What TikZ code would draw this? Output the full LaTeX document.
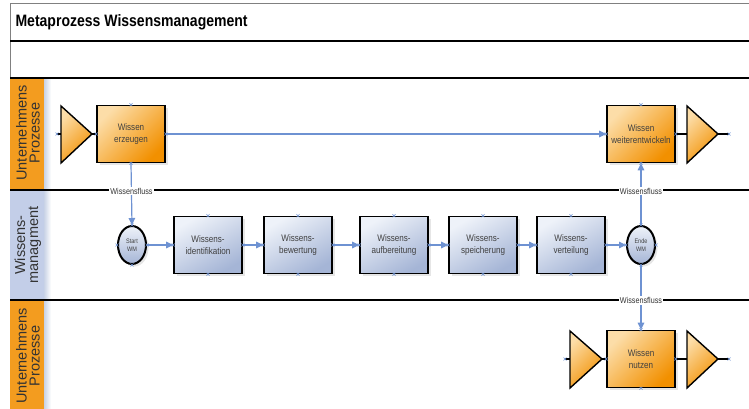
\documentclass[tikz,border=0pt]{standalone}
\usepackage{fontspec}
\setmainfont{Liberation Sans}
\newfontfamily\narrowsf[FakeStretch=0.85]{Liberation Sans}
\usetikzlibrary{arrows.meta,shapes.geometric,shadows}

\definecolor{wmOrangeL}{HTML}{FCDDA8}
\definecolor{wmOrangeD}{HTML}{F29000}
\definecolor{wmOrangeH}{HTML}{F39C1F}
\definecolor{wmBlueL}{HTML}{EEF2F9}
\definecolor{wmBlueD}{HTML}{A5B5D6}
\definecolor{wmBlueH}{HTML}{C3CEE8}
\definecolor{wmFlow}{HTML}{6E92D2}

\tikzset{
  wmshadow/.style={drop shadow={opacity=0.2,shadow xshift=2.5pt,shadow yshift=-2.5pt}},
  probox/.style={rectangle,draw=black,line width=1.6pt,minimum width=68pt,minimum height=57pt,
    top color=wmOrangeL,bottom color=wmOrangeD,shading angle=45,align=center,
    font=\narrowsf\fontsize{9.5}{11.5}\selectfont,text=black!75,wmshadow},
  wmbox/.style={probox,top color=wmBlueL,bottom color=wmBlueD,shading angle=30},
  evt/.style={ellipse,draw=black,line width=2pt,minimum width=28pt,minimum height=38pt,inner sep=0pt,
    top color=wmBlueL,bottom color=wmBlueD,align=center,font=\narrowsf\fontsize{6.5}{8}\selectfont,
    text=black!75,wmshadow},
  tri/.style={draw=black,line width=1.4pt,top color=wmOrangeL,bottom color=wmOrangeD,shading angle=45},
  wmflow/.style={draw=wmFlow,line width=1.2pt,-{Triangle[length=7pt,width=6.5pt]}},
  stub/.style={draw=black,line width=1.6pt},
  flowlbl/.style={fill=white,inner sep=1pt,font=\narrowsf\fontsize{8.5}{9}\selectfont,text=black!80},
  lanehd/.style={rotate=90,align=center,font=\fontsize{14.5}{13}\selectfont,text=black!80},
  lane/.style={draw=black,line width=2pt},
  cpmark/.style={draw=wmFlow,line width=0.6pt}
}

\begin{document}
\begin{tikzpicture}[x=1pt,y=-1pt]
  \useasboundingbox (0,0) rectangle (749,409);

  % frame and title
  \draw[gray,line width=0.8pt] (749,3) -- (10,3) -- (10,409);
  \node[anchor=west,font=\narrowsf\bfseries\fontsize{16.5}{18}\selectfont] (title) at (12,22) {Metaprozess Wissensmanagement};

  % lane headers
  \fill[wmOrangeH] (10,78) rectangle (44,190);
  \fill[wmBlueH] (10,190) rectangle (44,300);
  \fill[wmOrangeH] (10,300) rectangle (44,409);
  \shade[left color=wmBlueD!60,right color=white] (44,78) rectangle (51,409);
  \node[lanehd] (hd1) at (28,133) {Unternehmens\\Prozesse};
  \node[lanehd] (hd2) at (28,245) {Wissens-\\managment};
  \node[lanehd] (hd3) at (28,356) {Unternehmens\\Prozesse};

  % lane borders
  \draw[lane] (10,41) -- (749,41);
  \draw[lane] (10,78) -- (749,78);
  \draw[lane] (10,190) -- (749,190);
  \draw[lane] (10,300) -- (749,300);

  % processes
  \node[probox] (erz) at (131,134) {Wissen\\erzeugen};
  \node[probox] (wei) at (641,134) {Wissen\\weiterentwickeln};
  \node[probox] (nut) at (641,359) {Wissen\\nutzen};

  % knowledge management
  \node[evt] (start) at (132,245) {Start\\WM};
  \node[wmbox] (ident) at (208,245) {Wissens-\\identifikation};
  \node[wmbox] (bew) at (298,245) {Wissens-\\bewertung};
  \node[wmbox] (aufb) at (394,245) {Wissens-\\aufbereitung};
  \node[wmbox] (speich) at (483,245) {Wissens-\\speicherung};
  \node[wmbox] (vert) at (571,245) {Wissens-\\verteilung};
  \node[evt] (ende) at (641,245) {Ende\\WM};

  % in/out triangles
  \draw[tri] (61,106) -- (92,134) -- (61,163) -- cycle;
  \draw[tri] (687,106) -- (718,134) -- (687,163) -- cycle;
  \draw[tri] (570,331) -- (602,359) -- (570,388) -- cycle;
  \draw[tri] (687,331) -- (718,359) -- (687,388) -- cycle;
  \coordinate (inA) at (57,134);
  \coordinate (outA) at (729,134);
  \coordinate (inC) at (565,359);
  \coordinate (outC) at (729,359);
  \draw[stub] (inA) -- (61,134);
  \draw[stub] (92,134) -- (erz.west);
  \draw[stub] (wei.east) -- (687,134);
  \draw[stub] (718,134) -- (outA);
  \draw[stub] (inC) -- (570,359);
  \draw[stub] (602,359) -- (nut.west);
  \draw[stub] (nut.east) -- (687,359);
  \draw[stub] (718,359) -- (outC);

  % flows
  \draw[wmflow] (erz.east) -- (wei.west);
  \draw[wmflow] (erz.south) -- node[flowlbl,pos=0.45] {Wissensfluss} (start.north);
  \draw[wmflow] (start) -- (ident);
  \draw[wmflow] (ident) -- (bew);
  \draw[wmflow] (bew) -- (aufb);
  \draw[wmflow] (aufb) -- (speich);
  \draw[wmflow] (speich) -- (vert);
  \draw[wmflow] (vert) -- (ende);
  \draw[wmflow] (ende.north) -- node[flowlbl,pos=0.55] {Wissensfluss} (wei.south);
  \draw[wmflow] (ende.south) -- node[flowlbl,pos=0.55] {Wissensfluss} (nut.north);

  % connection points
  \foreach \n in {erz,wei,nut,start,ident,bew,aufb,speich,vert,ende}
    \foreach \a in {north,south,east,west}
      \draw[cpmark] (\n.\a) +(-1.5,-1.5) -- +(1.5,1.5) +(-1.5,1.5) -- +(1.5,-1.5);
  \foreach \c in {inA,outA,inC,outC}
    \draw[cpmark] (\c) +(-1.5,-1.5) -- +(1.5,1.5) +(-1.5,1.5) -- +(1.5,-1.5);
\end{tikzpicture}
\end{document}
